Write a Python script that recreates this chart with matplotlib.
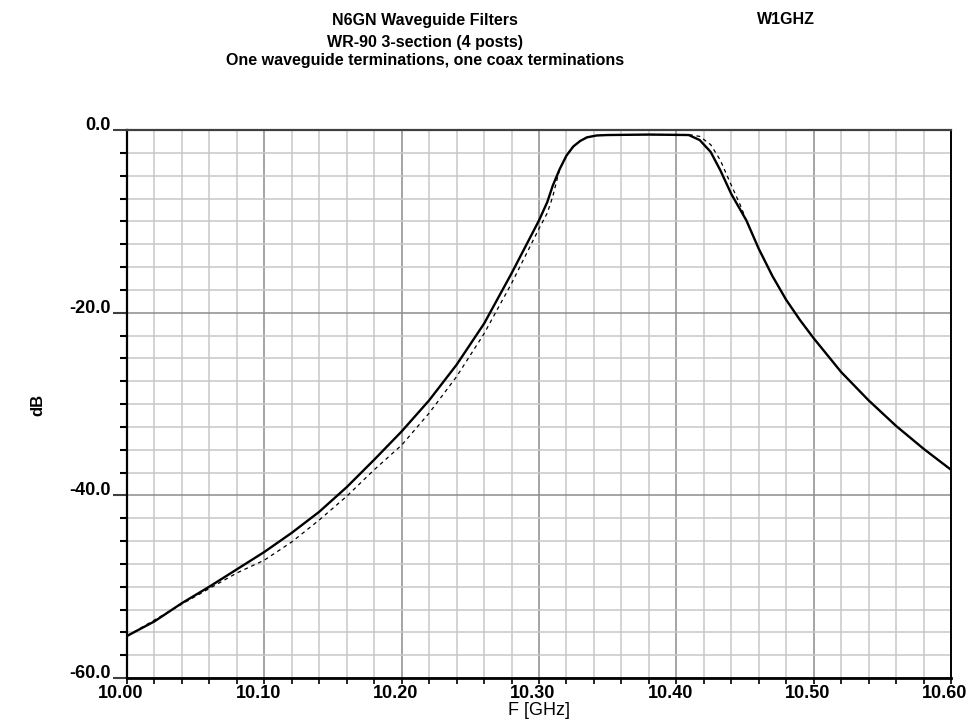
import numpy as np
import matplotlib
matplotlib.use('Agg')
import matplotlib.pyplot as plt
from matplotlib.ticker import MultipleLocator
from matplotlib.transforms import ScaledTranslation

# === Data ===
freq_solid = [10.00, 10.02, 10.04, 10.06, 10.08, 10.10, 10.12, 10.14, 10.16,
              10.18, 10.20, 10.22, 10.24, 10.26, 10.28, 10.30, 10.306, 10.31,
              10.315, 10.32, 10.325, 10.33, 10.335, 10.342, 10.35, 10.38,
              10.409, 10.417, 10.425, 10.432, 10.44, 10.451, 10.46, 10.47,
              10.48, 10.49, 10.50, 10.52, 10.54, 10.56, 10.58, 10.60]
db_solid = [-55.4, -53.8, -51.8, -50.0, -48.1, -46.2, -44.1, -41.8, -39.1,
            -36.1, -33.0, -29.6, -25.7, -21.2, -15.7, -9.9, -7.9, -6.1,
            -4.3, -2.8, -1.8, -1.2, -0.8, -0.6, -0.55, -0.5,
            -0.55, -1.1, -2.4, -4.4, -7.0, -9.9, -13.0, -16.0,
            -18.6, -20.8, -22.8, -26.5, -29.6, -32.4, -34.9, -37.2]

freq_dash = [10.00, 10.04, 10.06, 10.08, 10.10, 10.12, 10.14, 10.16, 10.18,
             10.20, 10.22, 10.24, 10.26, 10.28, 10.30, 10.306, 10.31, 10.312,
             10.315, 10.32, 10.325, 10.33, 10.335, 10.342, 10.35, 10.38,
             10.409, 10.417, 10.425, 10.432, 10.439, 10.4465, 10.451, 10.46,
             10.47, 10.48, 10.49, 10.50, 10.52, 10.54, 10.56, 10.58, 10.60]
db_dash = [-55.4, -51.9, -50.2, -48.5, -47.1, -45.1, -42.7, -40.1, -37.2,
           -34.5, -31.0, -27.0, -22.3, -16.8, -10.8, -9.1, -7.3, -6.1,
           -4.3, -2.8, -1.8, -1.2, -0.8, -0.6, -0.55, -0.5,
           -0.5, -0.7, -1.6, -3.3, -5.7, -8.2, -9.9, -13.0,
           -16.0, -18.6, -20.8, -22.8, -26.5, -29.6, -32.4, -34.9, -37.2]

x_ticks = [10.0, 10.1, 10.2, 10.3, 10.4, 10.5, 10.6]
x_labels = ['10.00', '10.10', '10.20', '10.30', '10.40', '10.50', '10.60']
y_ticks = [-60, -40, -20, 0]
y_labels = ['-60.0', '-40.0', '-20.0', '0.0']

title_lines = ['N6GN Waveguide Filters', 'WR-90 3-section (4 posts)',
               'One waveguide terminations, one coax terminations']

NARROW = ['Liberation Sans Narrow', 'Liberation Sans', 'DejaVu Sans']
MAJOR_GRID = '#8c8c8c'
MINOR_GRID = '#c8c8c8'

fig = plt.figure(figsize=(9.71, 7.26), dpi=100)
fig.patch.set_facecolor('white')
ax = fig.add_axes([127 / 971, 1 - 678 / 726, 824 / 971, 548 / 726])

ax.plot(freq_dash, db_dash, color='black', lw=0.9, ls=(0, (3, 3)), zorder=3)
ax.plot(freq_solid, db_solid, color='black', lw=1.7, zorder=4,
        solid_joinstyle='round')

ax.set_xlim(10.0, 10.6)
ax.set_ylim(-60, 0)

ax.set_xticks(x_ticks, x_labels, fontsize=13, fontweight='bold', family=NARROW)
ax.set_yticks(y_ticks, y_labels, fontsize=13, fontweight='bold', family=NARROW,
              va='baseline')
ax.xaxis.set_minor_locator(MultipleLocator(0.02))
ax.yaxis.set_minor_locator(MultipleLocator(2.5))

ax.grid(which='major', color=MAJOR_GRID, lw=1.1, zorder=1)
ax.grid(which='minor', color=MINOR_GRID, lw=1.1, zorder=0)
ax.set_axisbelow(True)

ax.tick_params(axis='x', which='both', direction='out', length=4, width=1.2,
               color='black', pad=1)
ax.tick_params(axis='y', which='major', direction='out', length=10, width=1.5,
               color='#404040', pad=2)
ax.tick_params(axis='y', which='minor', direction='out', length=5, width=1.5,
               color='black')

# labels sit a few pixels left of their ticks in the original
# (done after tick_params, which resets label transforms)
shift = ScaledTranslation(-6 / 100, 0, fig.dpi_scale_trans)
for tick in ax.xaxis.get_major_ticks():
    tick.label1.set_transform(tick.label1.get_transform() + shift)

ax.spines['left'].set_linewidth(1.6)
ax.spines['bottom'].set_linewidth(2.0)
ax.spines['right'].set_linewidth(1.4)
ax.spines['top'].set_linewidth(1.6)
ax.spines['top'].set_color('#404040')

ax.set_xlabel('F [GHz]', fontsize=13, family=['Liberation Sans', 'DejaVu Sans'],
              labelpad=0)
fig.text(38 / 971, 1 - 405 / 726, 'dB', rotation=90, ha='center', va='center',
         fontsize=12, fontweight='bold', family=NARROW)

title_y = [20, 43, 61]
for line, yy in zip(title_lines, title_y):
    fig.text(425 / 971, 1 - yy / 726, line, ha='center', va='center',
             fontsize=11.5, fontweight='bold', family=NARROW)
fig.text(786 / 971, 1 - 20 / 726, 'W1GHZ', ha='center', va='center',
         fontsize=11.5, fontweight='bold', family=NARROW)

fig.savefig('out.png', dpi=100, facecolor='white')
